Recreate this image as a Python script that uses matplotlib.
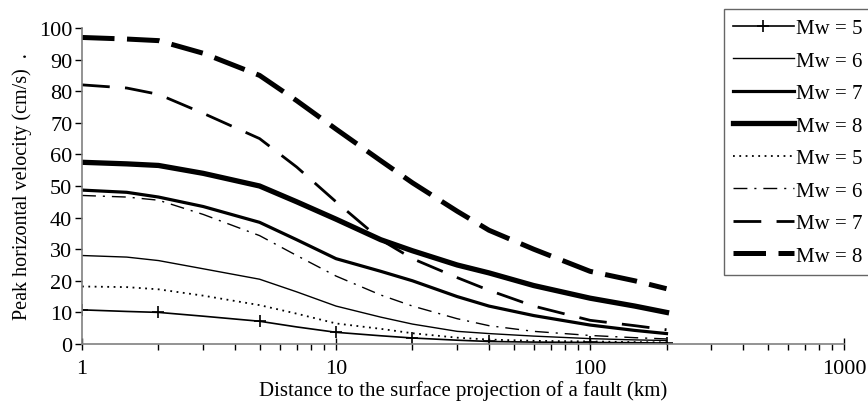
import matplotlib
matplotlib.use("Agg")
import matplotlib.pyplot as plt
from matplotlib.ticker import LogLocator, NullFormatter, FixedFormatter, FixedLocator

plt.rcParams['font.family'] = ['Liberation Serif', 'DejaVu Serif']

# distance (km)
dist = [1, 1.5, 2, 3, 5, 7, 10, 15, 20, 30, 40, 60, 100, 150, 200]

# peak horizontal velocity (cm/s)
pgv_a5 = [10.8, 10.3, 10.0, 8.8, 7.2, 5.4, 3.7, 2.6, 1.9, 1.2, 0.8, 0.6, 0.5, 0.4, 0.3]
pgv_a6 = [28.0, 27.5, 26.4, 23.8, 20.5, 16.5, 12.0, 8.5, 6.3, 4.0, 3.3, 2.5, 1.7, 1.3, 1.1]
pgv_a7 = [48.7, 48.0, 46.5, 43.5, 38.5, 33.0, 27.0, 23.0, 20.0, 15.0, 12.0, 9.0, 6.0, 4.3, 3.3]
pgv_a8 = [57.5, 57.0, 56.5, 54.0, 50.0, 45.0, 39.5, 33.0, 29.5, 25.0, 22.5, 18.5, 14.5, 12.0, 10.0]
pgv_b5 = [18.2, 18.0, 17.3, 15.3, 12.3, 9.6, 6.5, 4.8, 3.4, 2.0, 1.4, 1.0, 0.8, 0.6, 0.5]
pgv_b6 = [47.0, 46.5, 45.5, 41.0, 34.3, 28.0, 21.5, 15.5, 12.0, 8.0, 5.8, 4.0, 2.7, 2.0, 1.6]
pgv_b7 = [82.0, 81.0, 79.0, 73.0, 65.0, 56.0, 45.0, 33.0, 27.0, 21.0, 17.0, 12.0, 7.5, 5.8, 4.5]
pgv_b8 = [97.0, 96.5, 96.0, 92.0, 85.0, 77.0, 68.0, 58.0, 51.0, 42.0, 36.0, 30.0, 23.0, 20.0, 17.5]

labels = ["Mw = 5", "Mw = 6", "Mw = 7", "Mw = 8", "Mw = 5", "Mw = 6", "Mw = 7", "Mw = 8"]

fig = plt.figure(figsize=(8.68, 4.02), dpi=100)
ax = fig.add_axes([0.0945, 0.1418, 0.8779, 0.7861])

ax.plot(dist, pgv_a5, color='black', lw=1.2, marker='+', ms=9, mew=1.2, markevery=2, label=labels[0])
ax.plot(dist, pgv_a6, color='black', lw=1.0, label=labels[1])
ax.plot(dist, pgv_a7, color='black', lw=2.3, label=labels[2])
ax.plot(dist, pgv_a8, color='black', lw=3.8, label=labels[3])
ax.plot(dist, pgv_b5, color='black', lw=1.3, linestyle=(0, (1, 2.5)), label=labels[4])
ax.plot(dist, pgv_b6, color='black', lw=1.0, linestyle=(0, (10, 5, 1.5, 5)), label=labels[5])
ax.plot(dist, pgv_b7, color='black', lw=2.0, linestyle=(0, (10, 5.5)), label=labels[6])
ax.plot(dist, pgv_b8, color='black', lw=3.6, linestyle=(0, (6.5, 2.5)), label=labels[7])

ax.set_xscale('log')
ax.set_xlim(1, 1000)
ax.set_ylim(0, 100)
ax.xaxis.set_major_locator(FixedLocator([1, 10, 100, 1000]))
ax.xaxis.set_major_formatter(FixedFormatter(['1', '10', '100', '1000']))
ax.xaxis.set_minor_locator(LogLocator(base=10, subs=range(2, 10)))
ax.xaxis.set_minor_formatter(NullFormatter())
ax.set_yticks(range(0, 101, 10))

for s in ['top', 'right']:
    ax.spines[s].set_visible(False)
for s in ['left', 'bottom']:
    ax.spines[s].set_color('#808080')
    ax.spines[s].set_linewidth(1.2)

ax.tick_params(axis='x', which='major', direction='inout', length=9, width=1, color='black', labelsize=16, pad=6)
ax.tick_params(axis='x', which='minor', direction='out', length=4, width=1, color='black')
ax.tick_params(axis='y', which='major', direction='out', length=5, width=1, color='black', labelsize=16, pad=2)

ax.set_xlabel("Distance to the surface projection of a fault (km)", fontsize=15, labelpad=2)
ax.set_ylabel("Peak horizontal velocity (cm/s)  .", fontsize=14.5, labelpad=5)

leg = ax.legend(loc='upper left', bbox_to_anchor=(0.834, 0.975), bbox_transform=fig.transFigure,
                fontsize=15, frameon=True, fancybox=False, edgecolor='#404040',
                handlelength=2.9, handletextpad=0.1, labelspacing=0.62, borderpad=0.45,
                borderaxespad=0)
leg.get_frame().set_linewidth(1.0)

fig.savefig("out.png", dpi=100)
